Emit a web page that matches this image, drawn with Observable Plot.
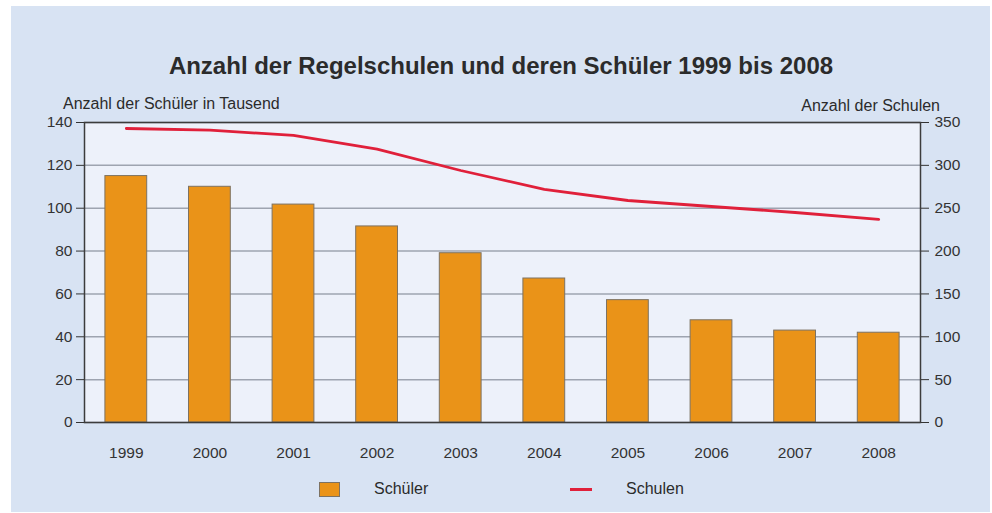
<!DOCTYPE html>
<html><head><meta charset="utf-8">
<script src="https://cdn.jsdelivr.net/npm/d3@7"></script>
<script src="https://cdn.jsdelivr.net/npm/@observablehq/plot@0.6"></script>
<style>
body{margin:0;background:#fff;font-family:"Liberation Sans",Arial,sans-serif;}
#wrap{position:relative;width:992px;height:513px;overflow:hidden;}
#bg{position:absolute;left:11px;top:6px;width:979px;height:506px;background:#d8e3f3;}
#chart{position:absolute;left:0;top:0;}
.t{position:absolute;white-space:nowrap;color:#2b2b2b;line-height:1;}
#title{left:0;width:1002px;text-align:center;top:54px;font-weight:bold;font-size:24px;}
#ly{left:63px;top:95.5px;font-size:16px;}
#ry{right:52px;top:98px;font-size:16px;}
.sw{position:absolute;}
</style>
</head><body>
<div id="wrap">
<div id="bg"></div>
<div id="chart"></div>
<div class="t" id="title">Anzahl der Regelschulen und deren Schüler 1999 bis 2008</div>
<div class="t" id="ly">Anzahl der Schüler in Tausend</div>
<div class="t" id="ry">Anzahl der Schulen</div>
<div class="sw" style="left:319px;top:482px;width:19px;height:13px;background:#ea9318;border:1px solid #7d7262;"></div>
<div class="t" style="left:374px;top:481px;font-size:16px;">Schüler</div>
<div class="sw" style="left:570px;top:488px;width:22px;height:3px;background:#e0203a;"></div>
<div class="t" style="left:626px;top:481px;font-size:16px;">Schulen</div>
</div>
<script>
const years = ["1999","2000","2001","2002","2003","2004","2005","2006","2007","2008"];
const schueler = [115, 110, 101.7, 91.5, 79, 67.2, 57.1, 47.7, 42.9, 41.9];
const schulen = [343, 341, 335, 319, 294, 272, 259, 252, 245, 237];
const leftTicks = [0, 20, 40, 60, 80, 100, 120, 140];
const rightTicks = [0, 50, 100, 150, 200, 250, 300, 350];

const ratio = 140 / 350;
const data = years.map((y, i) => ({year: y, schueler: schueler[i], schulen: schulen[i] * ratio}));

const plot = Plot.plot({
  width: 992,
  height: 513,
  marginLeft: 84,
  marginRight: 72,
  marginTop: 122,
  marginBottom: 91,
  style: {background: "transparent", fontSize: "15.5px", fontFamily: "'Liberation Sans', Arial, sans-serif", color: "#333"},
  x: {type: "band", domain: years, paddingInner: 0.5, paddingOuter: 0.25, align: 0.5, round: false},
  y: {domain: [0, 140]},
  marks: [
    Plot.frame({fill: "#edf1fa", stroke: null}),
    Plot.gridY({ticks: leftTicks, stroke: "#9ea4b0", strokeOpacity: 1, strokeWidth: 1.5}),
    Plot.barY(data, {x: "year", y: "schueler", fill: "#ea9318", stroke: "#7d7262", strokeWidth: 1}),
    Plot.lineY(data, {x: "year", y: "schulen", stroke: "#e0203a", strokeWidth: 2.8}),
    Plot.frame({stroke: "#3c3c3c", strokeWidth: 1.5}),
    Plot.axisX({tickSize: 0, tickPadding: 24, label: null}),
    Plot.axisY({anchor: "left", ticks: leftTicks, tickSize: 8, tickPadding: 4, label: null}),
    Plot.axisY({anchor: "right", ticks: rightTicks.map(v => v * ratio), tickFormat: d => String(Math.round(d / ratio)), tickSize: 8, tickPadding: 6, label: null})
  ]
});
document.getElementById("chart").appendChild(plot);
</script>
</body></html>
